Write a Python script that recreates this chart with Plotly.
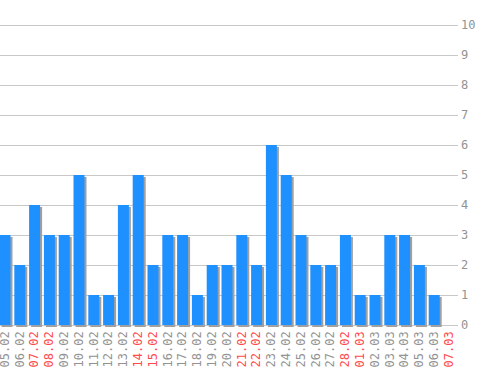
import plotly.graph_objects as go

dates = ["05.02", "06.02", "07.02", "08.02", "09.02", "10.02", "11.02", "12.02",
         "13.02", "14.02", "15.02", "16.02", "17.02", "18.02", "19.02", "20.02",
         "21.02", "22.02", "23.02", "24.02", "25.02", "26.02", "27.02", "28.02",
         "01.03", "02.03", "03.03", "04.03", "05.03", "06.03", "07.03"]
values = [3, 2, 4, 3, 3, 5, 1, 1, 4, 5, 2, 3, 3, 1, 2, 2, 3, 2, 6, 5, 3, 2, 2, 3,
          1, 1, 3, 3, 2, 1, 0]
weekends = ["07.02", "08.02", "14.02", "15.02", "21.02", "22.02", "28.02", "01.03", "07.03"]
y_ticks = list(range(0, 11))

GREY = "#a0a0a0"
RED = "#ff4a4a"
BLUE = "#1e90ff"

x = list(range(len(dates)))
ticktext = [f"<span style='color:{RED}'>{d}</span>" if d in weekends else d for d in dates]

px_per_cat = 14.8
px_per_unit = 30.0
bw = 11 / px_per_cat
sx = 2 / px_per_cat
sy = 2 / px_per_unit

fig = go.Figure()
fig.add_trace(go.Bar(x=x, y=values, base=-sy, width=bw, offset=-bw / 2 + sx,
                     marker=dict(color=GREY, line=dict(width=0)), hoverinfo="skip"))
fig.add_trace(go.Bar(x=x, y=values, width=bw,
                     marker=dict(color=BLUE, line=dict(width=0)), hoverinfo="skip"))

xmin = -5 / px_per_cat
xmax = xmin + 458 / px_per_cat

fig.update_layout(
    width=498, height=370,
    margin=dict(l=0, r=40, t=22, b=42),
    barmode="overlay",
    showlegend=False,
    plot_bgcolor="white", paper_bgcolor="white",
    font=dict(family="DejaVu Sans Mono", size=12, color="#939393"),
    xaxis=dict(range=[xmin, xmax], tickmode="array", tickvals=x, ticktext=ticktext,
               tickangle=-90, showgrid=False, zeroline=False, showline=False,
               ticks="", ticklen=0, fixedrange=True, ticklabeloverflow="allow",
               automargin=False),
    yaxis=dict(range=[-0.1, 10.1], side="right", tickmode="array", tickvals=y_ticks,
               showgrid=True, gridcolor="#c8c8c8", gridwidth=1, zeroline=False,
               showline=False, ticks="", fixedrange=True, ticklabelstandoff=2,
               automargin=False),
)

fig.write_html("out.html")
